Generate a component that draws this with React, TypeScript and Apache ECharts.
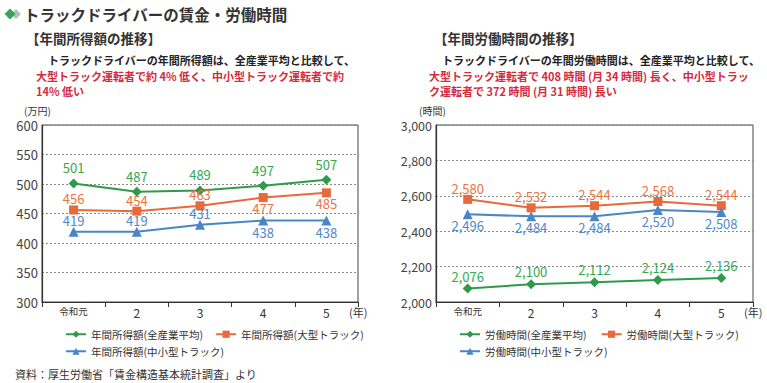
import React, { useEffect, useRef } from "react";
import * as echarts from "echarts";

const categories = ["令和元", "2", "3", "4", "5"];
const incomeAll = [501, 487, 489, 497, 507];
const incomeLarge = [456, 454, 463, 477, 485];
const incomeSmall = [419, 419, 431, 438, 438];
const hoursAll = [2076, 2100, 2112, 2124, 2136];
const hoursLarge = [2580, 2532, 2544, 2568, 2544];
const hoursSmall = [2496, 2484, 2484, 2520, 2508];

const incomeTicks = { min: 300, max: 600, interval: 50 };
const hoursTicks = { min: 2000, max: 3000, interval: 200 };

const FONT = "'Noto Sans CJK JP', 'Noto Sans', sans-serif";
const GREEN = "#2f9a4c";
const ORANGE = "#e8693a";
const BLUE = "#4a86c6";
const GREEN_L = "#36a853";
const ORANGE_L = "#ea7440";
const BLUE_L = "#5089c8";
const RED = "#d42b3d";

const fmt = (v: number) => v.toLocaleString("en-US");

function mkSeries(
  name: string,
  values: number[],
  axis: number,
  color: string,
  labelColor: string,
  symbol: string,
  symbolSize: number,
  positions: string[],
  distance: number
) {
  return {
    name,
    type: "line",
    xAxisIndex: axis,
    yAxisIndex: axis,
    symbol,
    symbolSize,
    lineStyle: { color, width: 2 },
    itemStyle: { color },
    data: values.map((v, i) => ({
      value: v,
      label: { position: positions[i] },
    })),
    label: {
      show: true,
      distance,
      color: labelColor,
      fontSize: 13,
      lineHeight: 13,
      fontFamily: FONT,
      formatter: (p: any) => fmt(p.value),
    },
    z: 3,
  };
}

const T = (p: string) => [p, p, p, p, p];

export default function App() {
  const ref = useRef<HTMLDivElement>(null);
  useEffect(() => {
    if (!ref.current) return;
    const chart = echarts.init(ref.current, null, { renderer: "svg" });
    const xAxisBase = (gridIndex: number) => ({
      type: "category",
      gridIndex,
      data: categories,
      boundaryGap: true,
      axisLine: { lineStyle: { color: "#333", width: 1.2 } },
      axisTick: { show: true, interval: 0, length: 5, lineStyle: { color: "#333" } },
      axisLabel: {
        interval: 0,
        color: "#333",
        fontSize: 12,
        fontFamily: FONT,
        margin: 4,
        formatter: (v: string) => (v.length > 1 ? `{s|${v}}` : v),
        rich: { s: { fontSize: 9.5, fontFamily: FONT, color: "#333" } },
      },
    });
    const yAxisBase = (gridIndex: number, t: any, size: number) => ({
      type: "value",
      gridIndex,
      ...t,
      axisLine: { show: true, lineStyle: { color: "#333", width: 1.2 } },
      axisTick: { show: false },
      splitLine: { lineStyle: { color: "#8a8a8a", type: [2, 2], width: 1 } },
      axisLabel: {
        color: "#444",
        fontSize: size,
        fontFamily: FONT,
        margin: 4,
        formatter: (v: number) => fmt(v),
      },
    });
    const legendText = { fontSize: 10.5, color: "#333", fontFamily: FONT };
    const texts: any[] = [
      { type: "polygon", shape: { points: [[16, 9], [21, 14], [16, 19], [11, 14]] }, style: { fill: "#b9bdbf" } },
      { type: "polygon", shape: { points: [[10, 8.5], [15.5, 14], [10, 19.5], [4.5, 14]] }, style: { fill: "#3aa35a" } },
      { type: "text", x: 24, y: 14, style: { text: "トラックドライバーの賃金・労働時間", fontSize: 15.5, fontWeight: "bold", fill: "#333", fontFamily: FONT, verticalAlign: "middle" } },
      { type: "text", x: 26, y: 38, style: { text: "【年間所得額の推移】", fontSize: 13.5, fontWeight: "bold", fill: "#333", fontFamily: FONT, verticalAlign: "middle" } },
      { type: "text", x: 434, y: 38, style: { text: "【年間労働時間の推移】", fontSize: 13.5, fontWeight: "bold", fill: "#333", fontFamily: FONT, verticalAlign: "middle" } },
      { type: "text", x: 48, y: 60, style: { text: "トラックドライバーの年間所得額は、全産業平均と比較して、", fontSize: 11, fontWeight: "bold", fill: "#222", fontFamily: FONT, verticalAlign: "middle" } },
      { type: "text", x: 36, y: 76, style: { text: "大型トラック運転者で約 4% 低く、中小型トラック運転者で約", fontSize: 11, fontWeight: "bold", fill: RED, fontFamily: FONT, verticalAlign: "middle" } },
      { type: "text", x: 36, y: 91, style: { text: "14% 低い", fontSize: 11, fontWeight: "bold", fill: RED, fontFamily: FONT, verticalAlign: "middle" } },
      { type: "text", x: 442, y: 60, style: { text: "トラックドライバーの年間労働時間は、全産業平均と比較して、", fontSize: 11, fontWeight: "bold", fill: "#222", fontFamily: FONT, verticalAlign: "middle" } },
      { type: "text", x: 429, y: 76, style: { text: "大型トラック運転者で 408 時間 (月 34 時間) 長く、中小型トラッ", fontSize: 11, fontWeight: "bold", fill: RED, fontFamily: FONT, verticalAlign: "middle" } },
      { type: "text", x: 429, y: 91, style: { text: "ク運転者で 372 時間 (月 31 時間) 長い", fontSize: 11, fontWeight: "bold", fill: RED, fontFamily: FONT, verticalAlign: "middle" } },
      { type: "text", x: 24, y: 110, style: { text: "(万円)", fontSize: 10, fill: "#333", fontFamily: FONT, verticalAlign: "middle" } },
      { type: "text", x: 419, y: 110, style: { text: "(時間)", fontSize: 10, fill: "#333", fontFamily: FONT, verticalAlign: "middle" } },
      { type: "text", x: 349, y: 312, style: { text: "(年)", fontSize: 11, fill: "#333", fontFamily: FONT, verticalAlign: "middle" } },
      { type: "text", x: 744, y: 312, style: { text: "(年)", fontSize: 11, fill: "#333", fontFamily: FONT, verticalAlign: "middle" } },
      { type: "text", x: 15, y: 374, style: { text: "資料：厚生労働省「賃金構造基本統計調査」より", fontSize: 11, fill: "#333", fontFamily: FONT, verticalAlign: "middle" } },
    ];
    const lg = { padding: 0, itemWidth: 20, itemHeight: 9, textStyle: legendText };
    const option: any = {
      animation: false,
      backgroundColor: "#fff",
      grid: [
        { left: 42, top: 125, width: 316, height: 177, show: true, borderColor: "#444", borderWidth: 1 },
        { left: 436, top: 125, width: 317, height: 177, show: true, borderColor: "#444", borderWidth: 1 },
      ],
      xAxis: [xAxisBase(0), xAxisBase(1)],
      yAxis: [yAxisBase(0, incomeTicks, 13), yAxisBase(1, hoursTicks, 12.5)],
      legend: [
        { ...lg, left: 65, top: 329, itemGap: 12, data: ["年間所得額(全産業平均)", "年間所得額(大型トラック)"] },
        { ...lg, left: 65, top: 346, itemGap: 12, data: ["年間所得額(中小型トラック)"] },
        { ...lg, left: 459, top: 329, itemGap: 14, data: ["労働時間(全産業平均)", "労働時間(大型トラック)"] },
        { ...lg, left: 459, top: 346, itemGap: 12, data: ["労働時間(中小型トラック)"] },
      ],
      series: [
        mkSeries("年間所得額(全産業平均)", incomeAll, 0, GREEN, GREEN_L, "diamond", 10, T("top"), 4),
        mkSeries("年間所得額(大型トラック)", incomeLarge, 0, ORANGE, ORANGE_L, "rect", 9, ["top", "top", "top", "bottom", "bottom"], 0),
        mkSeries("年間所得額(中小型トラック)", incomeSmall, 0, BLUE, BLUE_L, "triangle", 10, ["top", "top", "top", "bottom", "bottom"], 0),
        mkSeries("労働時間(全産業平均)", hoursAll, 1, GREEN, GREEN_L, "diamond", 10, T("top"), 1),
        mkSeries("労働時間(大型トラック)", hoursLarge, 1, ORANGE, ORANGE_L, "rect", 9, T("top"), 0),
        mkSeries("労働時間(中小型トラック)", hoursSmall, 1, BLUE, BLUE_L, "triangle", 10, T("bottom"), 0),
      ],
      graphic: texts,
    };
    chart.setOption(option);
    return () => chart.dispose();
  }, []);
  return (
    <div
      ref={ref}
      style={{ position: "fixed", left: 0, top: 0, width: 767, height: 383, background: "#fff" }}
    />
  );
}
